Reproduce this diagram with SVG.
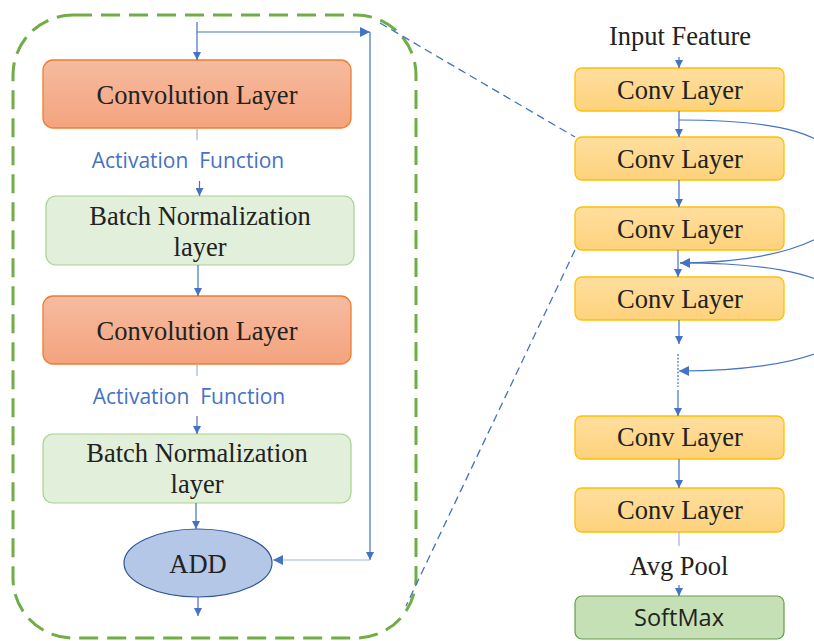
<svg xmlns="http://www.w3.org/2000/svg" width="814" height="641" viewBox="0 0 814 641">
  <defs>
    <linearGradient id="gConv" x1="0" y1="0" x2="0" y2="1">
      <stop offset="0" stop-color="#F6BBA0"/>
      <stop offset="1" stop-color="#F4A37E"/>
    </linearGradient>
    <linearGradient id="gGold" x1="0" y1="0" x2="0" y2="1">
      <stop offset="0" stop-color="#FFDE9E"/>
      <stop offset="1" stop-color="#FDD27C"/>
    </linearGradient>
    <marker id="arr" viewBox="0 0 10 10" refX="10" refY="5" markerWidth="8" markerHeight="8" markerUnits="userSpaceOnUse" orient="auto">
      <path d="M0,0 L10,5 L0,10 Z" fill="#4472C4"/>
    </marker>
    <marker id="arrL" viewBox="0 0 10 10" refX="10" refY="5" markerWidth="10" markerHeight="10" markerUnits="userSpaceOnUse" orient="auto">
      <path d="M0,0 L10,5 L0,10 Z" fill="#4472C4"/>
    </marker>
  </defs>
  <style>
    .serif { font-family: "Liberation Serif", "Times New Roman", serif; font-size: 26.5px; fill: #222; text-anchor: middle; }
    .sans { font-family: "Open Sans", "Noto Sans", sans-serif; text-anchor: middle; }
    .act { font-size: 21px; fill: #4472C4; white-space: pre; }
    .conv { fill: url(#gConv); stroke: #ED7D31; stroke-width: 1.3; }
    .bn { fill: #E2EFDA; stroke: #A9D18E; stroke-width: 1.2; }
    .gold { fill: url(#gGold); stroke: #FFC000; stroke-width: 1.3; }
    .ln { fill: none; stroke: #4472C4; stroke-width: 1.2; }
    .faint { fill: none; stroke: #9DB5E0; stroke-width: 1.2; }
    .lead { fill: none; stroke: #4472C4; stroke-width: 1.3; stroke-dasharray: 8 5; }
  </style>

  <!-- residual block outline -->
  <rect x="13" y="15" width="403" height="623" rx="60" ry="60" fill="none" stroke="#70AD47" stroke-width="3" stroke-dasharray="19 9"/>

  <!-- left: residual block -->
  <g id="conv1">
    <rect class="conv" x="43" y="60" width="308" height="68" rx="10"/>
    <text class="serif" x="197" y="104">Convolution Layer</text>
  </g>
  <g id="act1">
    <text class="sans act" x="188" y="168" xml:space="preserve">Activation  Function</text>
  </g>
  <g id="bn1">
    <rect class="bn" x="46" y="196" width="308" height="69" rx="10"/>
    <text class="serif" x="200" y="225">Batch Normalization</text>
    <text class="serif" x="200" y="256">layer</text>
  </g>
  <g id="conv2">
    <rect class="conv" x="43" y="296" width="308" height="68" rx="10"/>
    <text class="serif" x="197" y="340">Convolution Layer</text>
  </g>
  <g id="act2">
    <text class="sans act" x="189" y="404" xml:space="preserve">Activation  Function</text>
  </g>
  <g id="bn2">
    <rect class="bn" x="43" y="434" width="308" height="69" rx="10"/>
    <text class="serif" x="197" y="462">Batch Normalization</text>
    <text class="serif" x="197" y="493">layer</text>
  </g>
  <g id="add">
    <ellipse cx="198" cy="563" rx="74" ry="34" fill="#B4C7E7" stroke="#2F5597" stroke-width="1.2"/>
    <text class="serif" x="198" y="573">ADD</text>
  </g>

  <!-- right: network stack -->
  <g id="input">
    <text class="serif" x="680" y="45">Input Feature</text>
  </g>
  <g id="c1">
    <rect class="gold" x="575" y="68" width="209" height="43" rx="7"/>
    <text class="serif" x="680" y="99">Conv Layer</text>
  </g>
  <g id="c2">
    <rect class="gold" x="575" y="137" width="209" height="43" rx="7"/>
    <text class="serif" x="680" y="168">Conv Layer</text>
  </g>
  <g id="c3">
    <rect class="gold" x="575" y="207" width="209" height="43" rx="7"/>
    <text class="serif" x="680" y="238">Conv Layer</text>
  </g>
  <g id="c4">
    <rect class="gold" x="575" y="277" width="209" height="43" rx="7"/>
    <text class="serif" x="680" y="308">Conv Layer</text>
  </g>
  <g id="c5">
    <rect class="gold" x="575" y="416" width="209" height="43" rx="7"/>
    <text class="serif" x="680" y="446">Conv Layer</text>
  </g>
  <g id="c6">
    <rect class="gold" x="575" y="488" width="209" height="44" rx="7"/>
    <text class="serif" x="680" y="519">Conv Layer</text>
  </g>
  <g id="avgpool">
    <text class="serif" x="679" y="575">Avg Pool</text>
  </g>
  <g id="softmax">
    <rect x="575" y="596" width="209" height="43" rx="7" fill="#C5E0B4" stroke="#6A9A4A" stroke-width="1.2"/>
    <text class="sans" x="679" y="626" font-size="23" fill="#222" textLength="90" lengthAdjust="spacingAndGlyphs">SoftMax</text>
  </g>

  <g id="connectors">
    <!-- residual block flow -->
    <path class="ln" d="M197,22 V60" marker-end="url(#arr)"/>
    <path class="ln" d="M197,32 H370" marker-end="url(#arrL)"/>
    <path class="ln" d="M370,32 V560" marker-end="url(#arr)"/>
    <path class="faint" d="M370,560 H273" marker-end="url(#arrL)"/>
    <path class="faint" d="M197,129 V140"/>
    <path class="ln" d="M199.5,181 V196" marker-end="url(#arr)"/>
    <path class="ln" d="M198,265 V296" marker-end="url(#arr)"/>
    <path class="faint" d="M197,365 V376"/>
    <path class="ln" d="M197,416 V434" marker-end="url(#arr)"/>
    <path class="ln" d="M196,503 V529" marker-end="url(#arr)"/>
    <path class="ln" d="M198,597 V616" marker-end="url(#arr)"/>

    <!-- zoom leaders -->
    <path class="lead" d="M380,23 L575,137"/>
    <path class="lead" d="M575,250 L406,606"/>

    <!-- network flow -->
    <path class="ln" d="M679,57 V68" marker-end="url(#arr)"/>
    <path class="ln" d="M679,111 V137" marker-end="url(#arr)"/>
    <path class="ln" d="M679,180 V207" marker-end="url(#arr)"/>
    <path class="ln" d="M678,250 V277" marker-end="url(#arr)"/>
    <path class="ln" d="M679,320 V344" marker-end="url(#arr)"/>
    <path class="ln" d="M678,354 V387" stroke-dasharray="2 1.5"/>
    <path class="ln" d="M678,390 V416" marker-end="url(#arr)"/>
    <path class="ln" d="M679,459 V488" marker-end="url(#arr)"/>
    <path class="faint" d="M679,532 V546"/>
    <path class="ln" d="M679,585 V596" marker-end="url(#arr)"/>

    <!-- skip connections, looping out past the right edge -->
    <path class="ln" d="M679,120 C780,120 830,132 855,175 C870,215 820,262 680,263" marker-end="url(#arrL)"/>
    <path class="ln" d="M680,263 C785,263 835,278 852,305 C868,340 815,370 679,371" marker-end="url(#arrL)"/>
  </g>
</svg>
